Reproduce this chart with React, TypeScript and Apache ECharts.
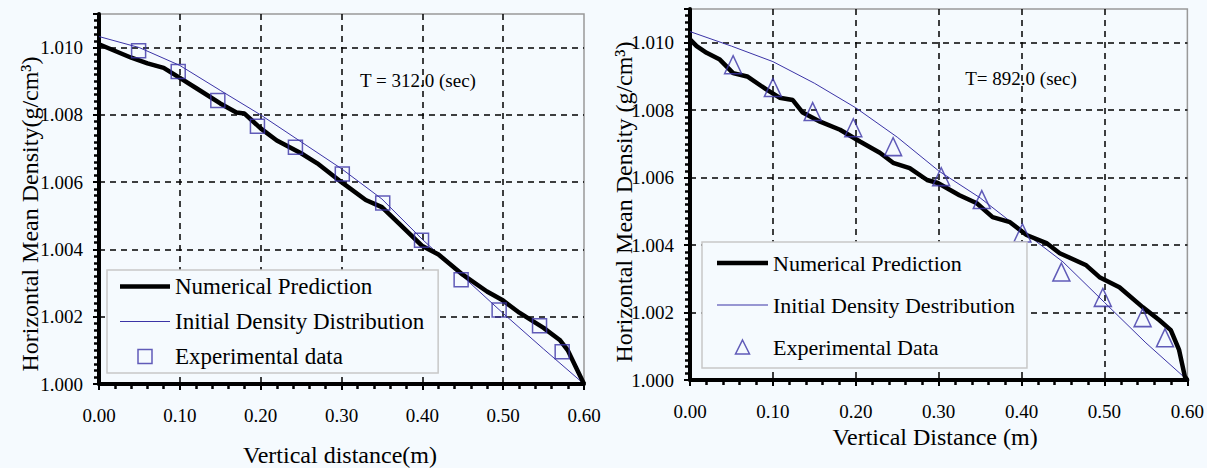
import React, { useEffect, useRef } from "react";
import * as echarts from "echarts";

const BG = "#f5fafe";
const BLUE = "#3b33a6";
const FONT = "Liberation Serif, Times New Roman, serif";

// ---------- Left panel (T = 312.0 s) ----------
const leftNumX = [0.0, 0.02, 0.04, 0.06, 0.08, 0.1, 0.12, 0.15, 0.17, 0.18, 0.2, 0.22, 0.25, 0.27, 0.3, 0.33, 0.35, 0.37, 0.4, 0.42, 0.45, 0.48, 0.5, 0.52, 0.55, 0.57, 0.58, 0.59, 0.6];
const leftNumY = [1.0101, 1.0099, 1.0097, 1.00953, 1.0094, 1.0091, 1.0088, 1.00834, 1.00807, 1.00804, 1.0076, 1.00724, 1.00686, 1.00656, 1.006, 1.00547, 1.00526, 1.0048, 1.0041, 1.00385, 1.00325, 1.00275, 1.00248, 1.00212, 1.00167, 1.00131, 1.001, 1.0005, 1.0];
const leftInitX = [0.0, 0.05, 0.1, 0.15, 0.2, 0.25, 0.3, 0.35, 0.4, 0.45, 0.5, 0.55, 0.6];
const leftInitY = [1.01033, 1.01, 1.00947, 1.00873, 1.008, 1.0072, 1.0064, 1.0055, 1.0043, 1.0032, 1.0021, 1.00104, 1.0];
const leftExpX = [0.049, 0.098, 0.147, 0.196, 0.243, 0.301, 0.351, 0.399, 0.448, 0.495, 0.545, 0.573];
const leftExpY = [1.00991, 1.00929, 1.00843, 1.00766, 1.00704, 1.00624, 1.00538, 1.00427, 1.0031, 1.0022, 1.00173, 1.00096];

// ---------- Right panel (T = 892.0 s) ----------
const rightNumX = [0.0, 0.008, 0.02, 0.036, 0.052, 0.069, 0.093, 0.108, 0.124, 0.136, 0.157, 0.181, 0.205, 0.229, 0.245, 0.265, 0.286, 0.299, 0.325, 0.346, 0.365, 0.386, 0.406, 0.43, 0.446, 0.478, 0.494, 0.518, 0.546, 0.566, 0.58, 0.59, 0.597, 0.6];
const rightNumY = [1.0101, 1.0099, 1.0097, 1.0095, 1.0091, 1.009, 1.0086, 1.00837, 1.0083, 1.00793, 1.00766, 1.00742, 1.00707, 1.00674, 1.00644, 1.00628, 1.00593, 1.00584, 1.00548, 1.00524, 1.00483, 1.00468, 1.0043, 1.00406, 1.00376, 1.0034, 1.00305, 1.00275, 1.00216, 1.00178, 1.00148, 1.00089, 1.0001, 1.0];
const rightInitX = [0.0, 0.05, 0.1, 0.15, 0.2, 0.25, 0.3, 0.35, 0.4, 0.45, 0.5, 0.55, 0.6];
const rightInitY = [1.01033, 1.0099, 1.00944, 1.0088, 1.00807, 1.0072, 1.0062, 1.0054, 1.00444, 1.0035, 1.0023, 1.0011, 1.0];
const rightExpX = [0.052, 0.1, 0.148, 0.197, 0.245, 0.303, 0.352, 0.401, 0.448, 0.498, 0.546, 0.573];
const rightExpY = [1.00935, 1.00867, 1.00796, 1.00748, 1.00692, 1.00603, 1.00535, 1.00436, 1.0032, 1.00245, 1.00185, 1.00125];

const NAME_NUM = "Numerical Prediction";
const NAME_INIT = "Initial Density Distribution";
const NAME_INIT_R = "Initial Density Destribution";
const NAME_EXP_L = "Experimental data";
const NAME_EXP_R = "Experimental Data";

const X_MIN = 0;
const X_MAX = 0.6;
const X_STEP = 0.1;
const Y_MIN = 1.0;
const Y_MAX = 1.011;
const Y_STEP = 0.002;

const ICON_THICK = "path://M0,0 H50 V4.5 H0 Z";
const ICON_THIN = "path://M0,0 H50 V1 H0 Z";
const ICON_SQUARE = "path://M0,0 H10 V10 H0 Z";
const ICON_TRI = "path://M5,0 L10,10 L0,10 Z";

const pairs = (xs: number[], ys: number[]) => xs.map((x, i) => [x, ys[i]]);

const xAxisCfg = (gridIndex: number) => ({
  type: "value",
  gridIndex,
  min: X_MIN,
  max: X_MAX,
  interval: X_STEP,
  axisLine: { show: true, onZero: false, lineStyle: { color: "#000", width: 4 } },
  axisTick: { show: true, inside: false, length: 6, lineStyle: { color: "#000", width: 2 } },
  minorTick: { show: true, splitNumber: 5, length: 5, lineStyle: { color: "#000", width: 2.5 } },
  axisLabel: {
    show: true,
    margin: 22,
    fontFamily: FONT,
    fontSize: 19,
    color: "#000",
    formatter: (v: number) => v.toFixed(2),
  },
  splitLine: {
    show: true,
    showMinLine: false,
    showMaxLine: false,
    lineStyle: { color: "#000", width: 1.5, type: [6, 5] },
  },
});

const yAxisCfg = (gridIndex: number) => ({
  type: "value",
  gridIndex,
  min: Y_MIN,
  max: Y_MAX,
  interval: Y_STEP,
  axisLine: { show: true, onZero: false, lineStyle: { color: "#000", width: 4 } },
  axisTick: { show: true, inside: false, length: 6, lineStyle: { color: "#000", width: 2 } },
  minorTick: { show: true, splitNumber: 10, length: 5, lineStyle: { color: "#000", width: 2.5 } },
  axisLabel: {
    show: true,
    margin: 16,
    fontFamily: FONT,
    fontSize: 19,
    color: "#000",
    showMaxLabel: false,
    formatter: (v: number) => v.toFixed(3),
  },
  splitLine: {
    show: true,
    showMinLine: false,
    showMaxLine: false,
    lineStyle: { color: "#000", width: 1.5, type: [6, 5] },
  },
});

const txt = (text: string, x: number, y: number, size: number, rotation = 0) => ({
  type: "text",
  x,
  y,
  rotation,
  z: 10,
  style: {
    text,
    fill: "#000",
    fontFamily: FONT,
    fontSize: size,
    align: "center",
    verticalAlign: "middle",
    textAlign: "center",
    textVerticalAlign: "middle",
  },
});

const legendItems = (expName: string, initName: string, expIcon: string) => [
  { name: NAME_NUM, icon: ICON_THICK, itemStyle: { color: "#000", borderWidth: 0 } },
  { name: initName, icon: ICON_THIN, itemStyle: { color: BLUE, borderWidth: 0 } },
  { name: expName, icon: expIcon, itemStyle: { color: "rgba(0,0,0,0)", borderColor: BLUE, borderWidth: 1.5 } },
];

export default function App() {
  const ref = useRef<HTMLDivElement>(null);

  useEffect(() => {
    document.body.style.margin = "0";
    document.body.style.background = BG;
    const chart = echarts.init(ref.current!, undefined, { renderer: "svg" });

    const option: any = {
      animation: false,
      backgroundColor: BG,
      textStyle: { fontFamily: FONT },
      grid: [
        { left: 99, top: 14, width: 485, height: 370, show: true, borderColor: "#999", borderWidth: 1.5, backgroundColor: "transparent" },
        { left: 690, top: 9, width: 498, height: 371, show: true, borderColor: "#999", borderWidth: 1.5, backgroundColor: "transparent" },
      ],
      xAxis: [xAxisCfg(0), xAxisCfg(1)],
      yAxis: [yAxisCfg(0), yAxisCfg(1)],
      legend: [
        {
          orient: "vertical",
          left: 107,
          top: 270,
          z: 20,
          padding: [5, 14, 5, 13],
          itemGap: 12,
          itemWidth: 50,
          itemHeight: 14,
          symbolKeepAspect: true,
          backgroundColor: BG,
          borderColor: "#c8c8c8",
          borderWidth: 1.5,
          borderRadius: 0,
          selectedMode: false,
          textStyle: { fontFamily: FONT, fontSize: 23, color: "#000" },
          data: legendItems(NAME_EXP_L, NAME_INIT, ICON_SQUARE),
        },
        {
          orient: "vertical",
          left: 702,
          top: 242,
          z: 20,
          padding: [10, 12, 10, 15],
          itemGap: 20,
          itemWidth: 51,
          itemHeight: 14,
          symbolKeepAspect: true,
          backgroundColor: BG,
          borderColor: "#c8c8c8",
          borderWidth: 1.5,
          borderRadius: 0,
          selectedMode: false,
          textStyle: { fontFamily: FONT, fontSize: 22, color: "#000" },
          data: legendItems(NAME_EXP_R, NAME_INIT_R, ICON_TRI),
        },
      ],
      series: [
        {
          name: NAME_INIT,
          type: "line",
          xAxisIndex: 0,
          yAxisIndex: 0,
          symbol: "none",
          lineStyle: { color: BLUE, width: 1 },
          itemStyle: { color: BLUE },
          data: pairs(leftInitX, leftInitY),
          z: 3,
        },
        {
          name: NAME_NUM,
          type: "line",
          xAxisIndex: 0,
          yAxisIndex: 0,
          symbol: "none",
          lineStyle: { color: "#000", width: 4.5 },
          itemStyle: { color: "#000" },
          data: pairs(leftNumX, leftNumY),
          z: 4,
        },
        {
          name: NAME_EXP_L,
          type: "scatter",
          xAxisIndex: 0,
          yAxisIndex: 0,
          symbol: "rect",
          symbolSize: 14,
          itemStyle: { color: "rgba(0,0,0,0)", borderColor: BLUE, borderWidth: 1.5 },
          data: pairs(leftExpX, leftExpY),
          z: 5,
        },
        {
          name: NAME_INIT_R,
          type: "line",
          xAxisIndex: 1,
          yAxisIndex: 1,
          symbol: "none",
          lineStyle: { color: BLUE, width: 1 },
          itemStyle: { color: BLUE },
          data: pairs(rightInitX, rightInitY),
          z: 3,
        },
        {
          name: NAME_NUM,
          type: "line",
          xAxisIndex: 1,
          yAxisIndex: 1,
          symbol: "none",
          lineStyle: { color: "#000", width: 4.5 },
          itemStyle: { color: "#000" },
          data: pairs(rightNumX, rightNumY),
          z: 4,
        },
        {
          name: NAME_EXP_R,
          type: "scatter",
          xAxisIndex: 1,
          yAxisIndex: 1,
          symbol: "triangle",
          symbolSize: [17, 18],
          itemStyle: { color: "rgba(0,0,0,0)", borderColor: BLUE, borderWidth: 1.5 },
          data: pairs(rightExpX, rightExpY),
          z: 5,
        },
      ],
      graphic: [
        txt("Horizontal Mean Density(g/cm³)", 30, 214, 24, Math.PI / 2),
        txt("Horizontal Mean Density (g/cm³)", 624, 202, 24, Math.PI / 2),
        txt("Vertical distance(m)", 340, 455, 24),
        txt("Vertical Distance (m)", 935, 437, 24),
        txt("T = 312.0 (sec)", 418, 80, 19),
        txt("T= 892.0 (sec)", 1021, 78, 19),
      ],
    };

    chart.setOption(option);
    return () => chart.dispose();
  }, []);

  return <div ref={ref} style={{ width: 1207, height: 468 }} />;
}
